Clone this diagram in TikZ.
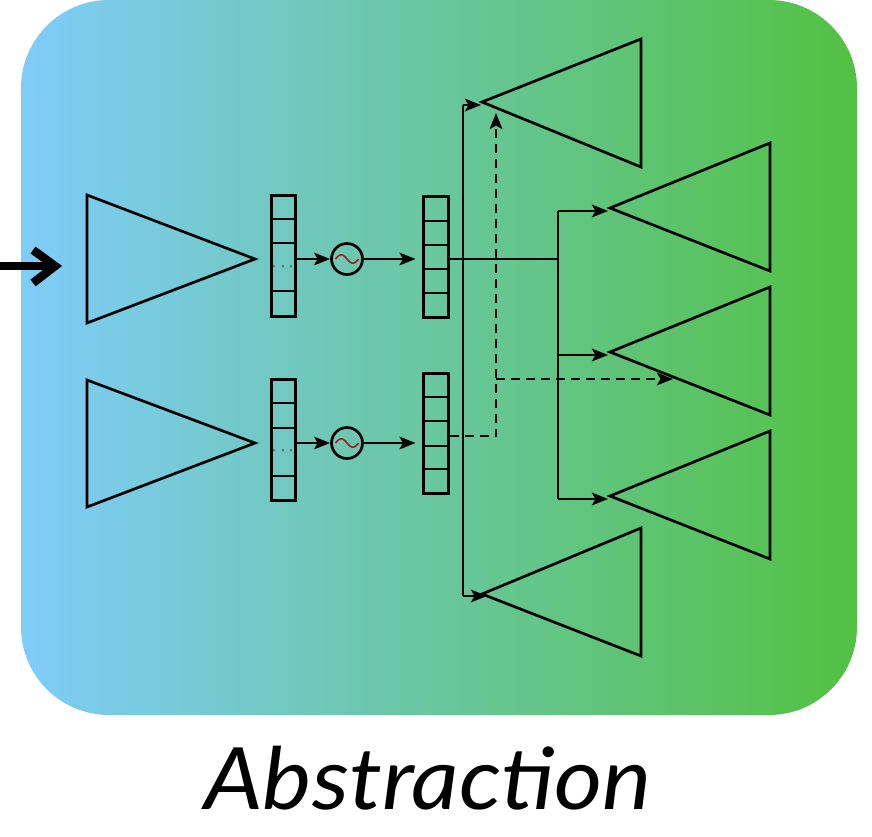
\documentclass[tikz,border=0pt]{standalone}
\usepackage{fontspec}
\setmainfont{Lato}
\usetikzlibrary{arrows.meta}
\definecolor{bgleft}{RGB}{127,204,250}
\definecolor{bgright}{RGB}{82,193,66}
\definecolor{wavered}{RGB}{170,25,35}

\begin{document}
\begin{tikzpicture}[x=1pt,y=-1pt,
  tri/.style={draw=black,line width=2.7pt,line join=miter},
  colbox/.style={draw=black,line width=3pt,minimum width=24pt,minimum height=121pt,inner sep=0pt},
  cellline/.style={draw=black,line width=2.8pt},
  osc/.style={circle,draw=black,line width=2.7pt,minimum size=31pt,inner sep=0pt},
  wire/.style={draw=black,line width=2.7pt},
  link/.style={wire,-{Stealth[length=16pt,width=12.5pt,inset=3.5pt]}},
  dlink/.style={link,dash pattern=on 9pt off 6pt},
  dotmark/.style={fill=black!75,radius=1pt},
]
\useasboundingbox (0,0) rectangle (872,836);

% background panel
\shade[left color=bgleft,right color=bgright,rounded corners=88pt]
  (21,0) rectangle (857,715);

% input arrow
\coordinate (src) at (0,266);
\coordinate (srctip) at (55,266);
\draw[line width=8.5pt] (src) -- (srctip);
\draw[line width=8.5pt,line join=miter] (33,250) -- (srctip) -- (33,283);

% input triangles
\coordinate (a1) at (255,259);
\coordinate (a2) at (255,443);
\draw[tri] (87,195) -- (a1) -- (87,323) -- cycle;
\draw[tri] (87,380) -- (a2) -- (87,507) -- cycle;

% first columns
\node[colbox] (c1) at (283,255.5) {};
\foreach \yy in {219,243,291} \draw[cellline] (271,\yy) -- (295,\yy);
\foreach \xx in {274,283,291} \fill[dotmark] (\xx,266) circle;

\node[colbox] (c1b) at (283,439.5) {};
\foreach \yy in {403,428,476} \draw[cellline] (271,\yy) -- (295,\yy);
\foreach \xx in {274,283,291} \fill[dotmark] (\xx,450) circle;

% oscillators
\node[osc] (s1) at (347,259) {};
\node[osc] (s2) at (347,443) {};
\foreach \nn in {s1,s2}
  \draw[wavered,line width=1.6pt] plot[domain=-11.5:11.5,smooth,samples=40]
    ([xshift=\x pt,yshift={-4.2*sin(15.65*\x)*1pt}]\nn.center);

% second columns
\node[colbox,minimum width=25pt] (c2) at (435.5,256.5) {};
\foreach \yy in {221,245,269,293} \draw[cellline] (423,\yy) -- (448,\yy);
\node[colbox,minimum width=25pt,minimum height=120pt] (c2b) at (435.5,433) {};
\foreach \yy in {397,421,446,469} \draw[cellline] (423,\yy) -- (448,\yy);

% column to oscillator to column
\draw[link] (c1.east |- s1.west) -- (s1.west);
\draw[link,shorten >=6pt] (s1.east) -- (c2.west |- s1.east);
\draw[link] (c1b.east |- s2.west) -- (s2.west);
\draw[link,shorten >=6pt] (s2.east) -- (c2b.west |- s2.east);

% output triangles
\coordinate (b1) at (482,102);
\coordinate (b2) at (610,208);
\coordinate (b3) at (610,352);
\coordinate (b4) at (610,496);
\coordinate (b5) at (482,594);
\draw[tri] (641,39) -- (b1) -- (641,167) -- cycle;
\draw[tri] (770,143) -- (b2) -- (770,271) -- cycle;
\draw[tri] (770,287) -- (b3) -- (770,415) -- cycle;
\draw[tri] (770,431) -- (b4) -- (770,559) -- cycle;
\draw[tri] (641,528) -- (b5) -- (641,656) -- cycle;

% solid fan-out
\coordinate (hub) at (558,259);
\coordinate (bus) at (463,259);
\draw[wire] (c2.east |- hub) -- (hub);
\draw[wire] (558,211) -- (558,499);
\draw[link] (558,211) -- ([xshift=-2pt]b2 |- 0,211);
\draw[link] (558,355) -- ([xshift=-2pt]b3 |- 0,355);
\draw[link] (558,499) -- ([xshift=-2pt]b4 |- 0,499);
\draw[wire] (463,105) -- (463,596);
\draw[link] (463,105) -- ([xshift=-1pt]b1 |- 0,105);
\draw[link] (463,596) -- ([xshift=5pt]b5 |- 0,596);

% dashed route from the lower column
\coordinate (dturn) at (496,436);
\draw[dlink] (c2b.east |- dturn) -- (dturn) -- (496,113);
\draw[dlink] (496,379) -- (673,379);

% caption
\node[font=\fontsize{86}{86}\selectfont\itshape,anchor=base,inner sep=0pt,xscale=1.08]
  (cap) at (428,809) {Abstraction};
\end{tikzpicture}
\end{document}
